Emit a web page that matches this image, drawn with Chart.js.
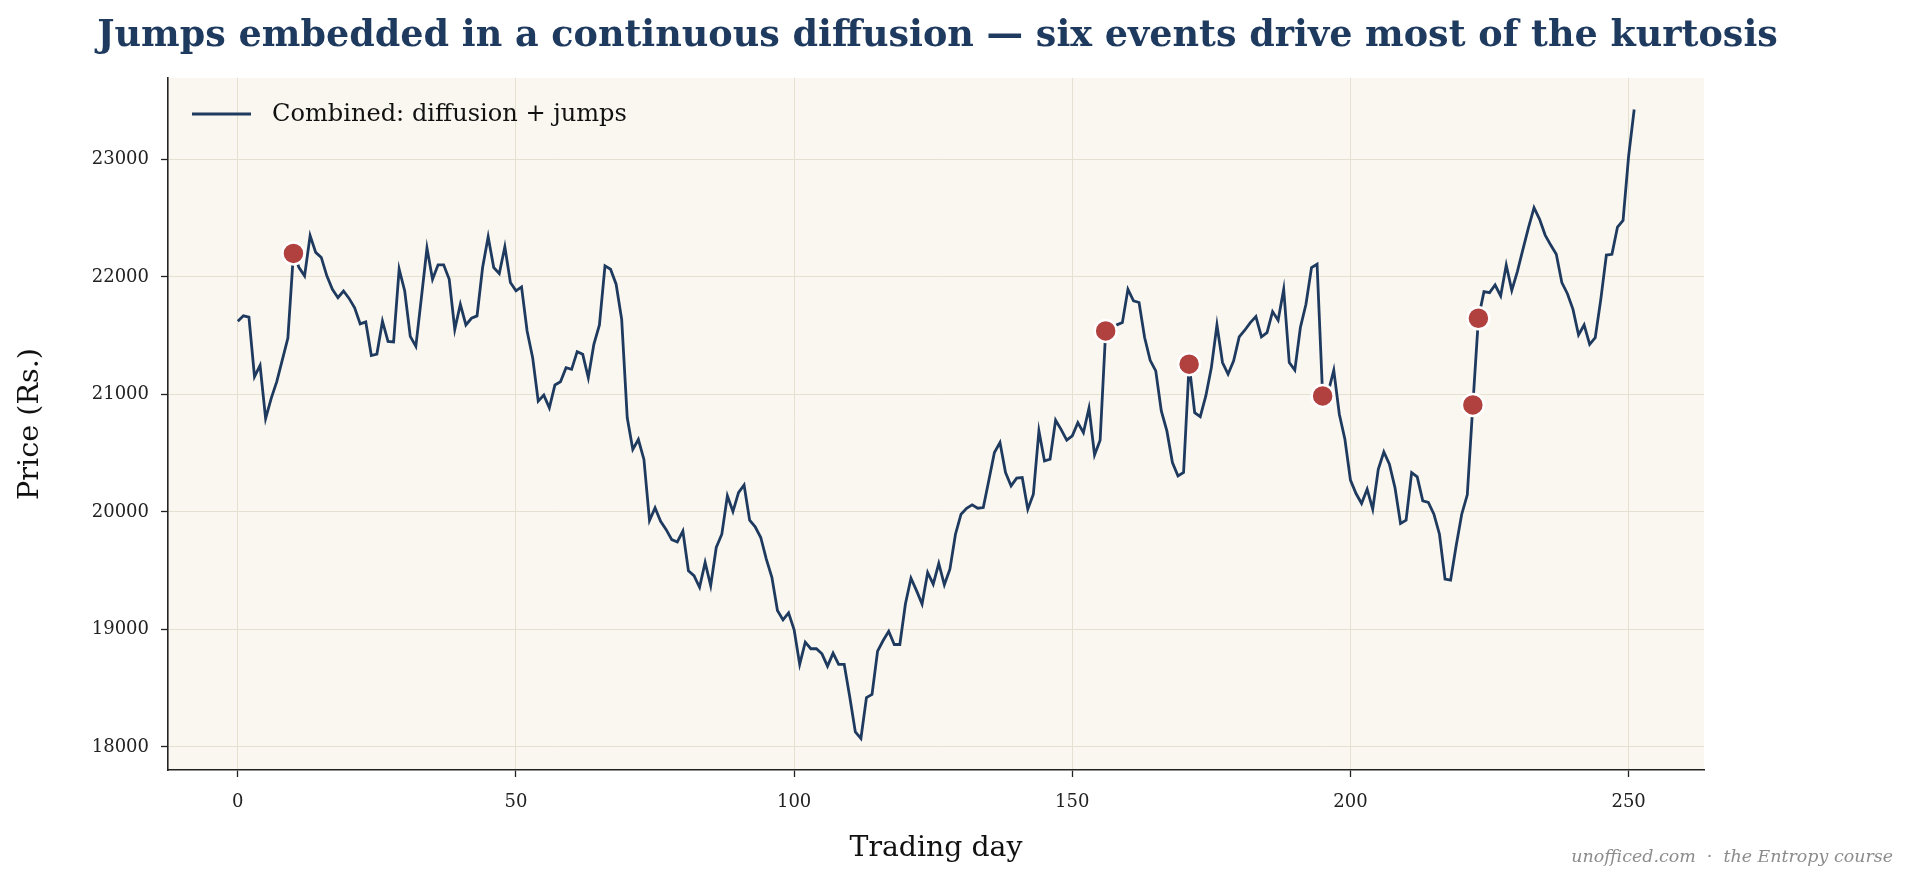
<!DOCTYPE html>
<html>
<head>
<meta charset="utf-8">
<script src="https://cdn.jsdelivr.net/npm/chart.js@4.4.1/dist/chart.umd.min.js"></script>
<style>
  html, body { margin: 0; padding: 0; background: #ffffff; }
  #wrap { width: 1909px; height: 884px; }
</style>
</head>
<body>
<div id="wrap"><canvas id="c" width="1909" height="884"></canvas></div>
<script>
// ---- data ----
const prices = [
  21623, 21669, 21657, 21151, 21246, 20794, 20966, 21109, 21294, 21480,
  22200, 22080, 22009, 22351, 22209, 22166, 22009, 21894, 21823, 21880,
  21817, 21737, 21600, 21617, 21331, 21343, 21623, 21451, 21446, 22066,
  21880, 21494, 21409, 21823, 22246, 21980, 22103, 22103, 21980, 21553,
  21767, 21591, 21648, 21668, 22080, 22341, 22080, 22028, 22256, 21952,
  21881, 21915, 21540, 21312, 20943, 20994, 20886, 21080, 21108, 21227,
  21213, 21364, 21341, 21142, 21426, 21591, 22094, 22065, 21938, 21639,
  20801, 20531, 20616, 20446, 19926, 20034, 19920, 19849, 19764, 19744,
  19837, 19499, 19457, 19358, 19570, 19372, 19697, 19810, 20136, 20003,
  20164, 20229, 19929, 19873, 19782, 19598, 19443, 19160, 19081, 19140,
  18996, 18702, 18891, 18835, 18835, 18792, 18687, 18798, 18702, 18702,
  18424, 18127, 18071, 18419, 18447, 18815, 18905, 18984, 18871, 18871,
  19216, 19436, 19330, 19215, 19484, 19385, 19561, 19379, 19512, 19810,
  19980, 20031, 20060, 20031, 20037, 20270, 20505, 20590, 20335, 20221,
  20287, 20292, 20023, 20150, 20689, 20434, 20448, 20780, 20700, 20610,
  20647, 20760, 20675, 20882, 20485, 20610, 21540, 21570, 21592, 21611,
  21895, 21796, 21782, 21484, 21290, 21200, 20860, 20689, 20420, 20306,
  20335, 21257, 20845, 20811, 20987, 21228, 21591, 21271, 21172, 21285,
  21489, 21546, 21611, 21662, 21489, 21526, 21705, 21631, 21895, 21271,
  21206, 21569, 21767, 22079, 22108, 20987, 21020, 21206, 20831, 20618,
  20270, 20156, 20071, 20193, 20023, 20363, 20510, 20406, 20207, 19901,
  19929, 20335, 20298, 20094, 20080, 19980, 19810, 19428, 19419, 19711,
  19980, 20145, 20910, 21648, 21874, 21866, 21931, 21838, 22101, 21886,
  22045, 22234, 22419, 22589, 22490, 22356, 22271, 22192, 21951, 21857,
  21724, 21506, 21591, 21426, 21483, 21809, 22186, 22192, 22424, 22481,
  23028, 23425
];
const tradingDays = prices.map((_, i) => i);   // day index of each price

const jumpDays   = [10, 156, 171, 195, 222, 223];
const jumpPrices = [22200, 21540, 21257, 20987, 20910, 21648];

const xTickValues = [0, 50, 100, 150, 200, 250];
const yTickValues = [18000, 19000, 20000, 21000, 22000, 23000];

const titleText  = 'Jumps embedded in a continuous diffusion \u2014 six events drive most of the kurtosis';
const seriesName = 'Combined: diffusion + jumps';
const xTitle     = 'Trading day';
const yTitle     = 'Price (Rs.)';
const creditText = 'unofficed.com  \u00b7  the Entropy course';

// ---- styling ----
const NAVY = '#1f3a5f';
const RED = '#b0413e';
const SERIF = '"DejaVu Serif", "Liberation Serif", serif';

function fitFont(ctx, text, style, width) {
  ctx.font = style + ' 100px ' + SERIF;
  const w = ctx.measureText(text).width;
  const size = 100 * width / w;
  ctx.font = style + ' ' + size.toFixed(2) + 'px ' + SERIF;
  return size;
}

const decor = {
  id: 'decor',
  beforeDraw(chart) {
    const { ctx, chartArea: a } = chart;
    ctx.save();
    ctx.fillStyle = '#ffffff';
    ctx.fillRect(0, 0, chart.width, chart.height);
    ctx.fillStyle = '#faf7f0';
    ctx.fillRect(a.left, a.top, a.right - a.left, a.bottom - a.top);
    ctx.restore();
  },
  afterDraw(chart) {
    const { ctx, chartArea: a } = chart;
    ctx.save();
    // title
    ctx.fillStyle = NAVY;
    ctx.textAlign = 'center';
    ctx.textBaseline = 'alphabetic';
    fitFont(ctx, titleText, 'bold', 1681);
    ctx.fillText(titleText, 937.5, 46);

    // legend
    ctx.strokeStyle = NAVY;
    ctx.lineWidth = 2.8;
    ctx.beginPath();
    ctx.moveTo(192, 114);
    ctx.lineTo(251, 114);
    ctx.stroke();
    ctx.fillStyle = '#111111';
    ctx.textAlign = 'left';
    ctx.textBaseline = 'middle';
    fitFont(ctx, seriesName, 'normal', 355);
    ctx.fillText(seriesName, 272, 115);

    // axis titles
    ctx.fillStyle = '#111111';
    ctx.textAlign = 'center';
    ctx.textBaseline = 'middle';
    fitFont(ctx, xTitle, 'normal', 173);
    ctx.fillText(xTitle, (a.left + a.right) / 2, 849);

    ctx.save();
    ctx.translate(31, (a.top + a.bottom) / 2);
    ctx.rotate(-Math.PI / 2);
    fitFont(ctx, yTitle, 'normal', 152);
    ctx.fillText(yTitle, 0, 0);
    ctx.restore();

    // credit
    ctx.fillStyle = '#8c8c8c';
    ctx.textAlign = 'right';
    ctx.textBaseline = 'middle';
    fitFont(ctx, creditText, 'italic', 322);
    ctx.fillText(creditText, 1893, 857);
    ctx.restore();
  }
};

const tickFont = { family: SERIF, size: 18 };

new Chart(document.getElementById('c'), {
  data: {
    datasets: [
      {
        type: 'scatter',
        label: 'Jump events',
        data: jumpDays.map((d, i) => ({ x: d, y: jumpPrices[i] })),
        order: 0,
        pointRadius: 11,
        pointHoverRadius: 11,
        pointBackgroundColor: RED,
        pointBorderColor: '#ffffff',
        pointBorderWidth: 2.5
      },
      {
        type: 'line',
        label: seriesName,
        data: prices.map((p, i) => ({ x: tradingDays[i], y: p })),
        order: 1,
        borderColor: NAVY,
        borderWidth: 2.8,
        pointRadius: 0,
        tension: 0,
        fill: false
      }
    ]
  },
  options: {
    responsive: false,
    animation: false,
    devicePixelRatio: 1,
    layout: { padding: { top: 78, right: 205, left: 0, bottom: 0 } },
    plugins: {
      legend: { display: false },
      title: { display: false },
      tooltip: { enabled: false }
    },
    scales: {
      x: {
        type: 'linear',
        min: -12.55,
        max: 263.55,
        afterBuildTicks: s => { s.ticks = xTickValues.map(v => ({ value: v })); },
        afterFit: s => { s.height = 114; },
        grid: { color: '#e6e0d0', lineWidth: 1, tickColor: '#222222', tickLength: 7, tickWidth: 1.3 },
        border: { display: true, color: '#222222', width: 1.6 },
        ticks: { font: tickFont, color: '#222222', padding: 15, maxRotation: 0, callback: v => String(v) }
      },
      y: {
        type: 'linear',
        min: 17803,
        max: 23693,
        afterBuildTicks: s => { s.ticks = yTickValues.map(v => ({ value: v })); },
        afterFit: s => { s.width = 168; },
        grid: { color: '#e6e0d0', lineWidth: 1, tickColor: '#222222', tickLength: 7, tickWidth: 1.3 },
        border: { display: true, color: '#222222', width: 1.6 },
        ticks: { font: tickFont, color: '#222222', padding: 12, callback: v => String(v) }
      }
    }
  },
  plugins: [decor]
});
</script>
</body>
</html>
